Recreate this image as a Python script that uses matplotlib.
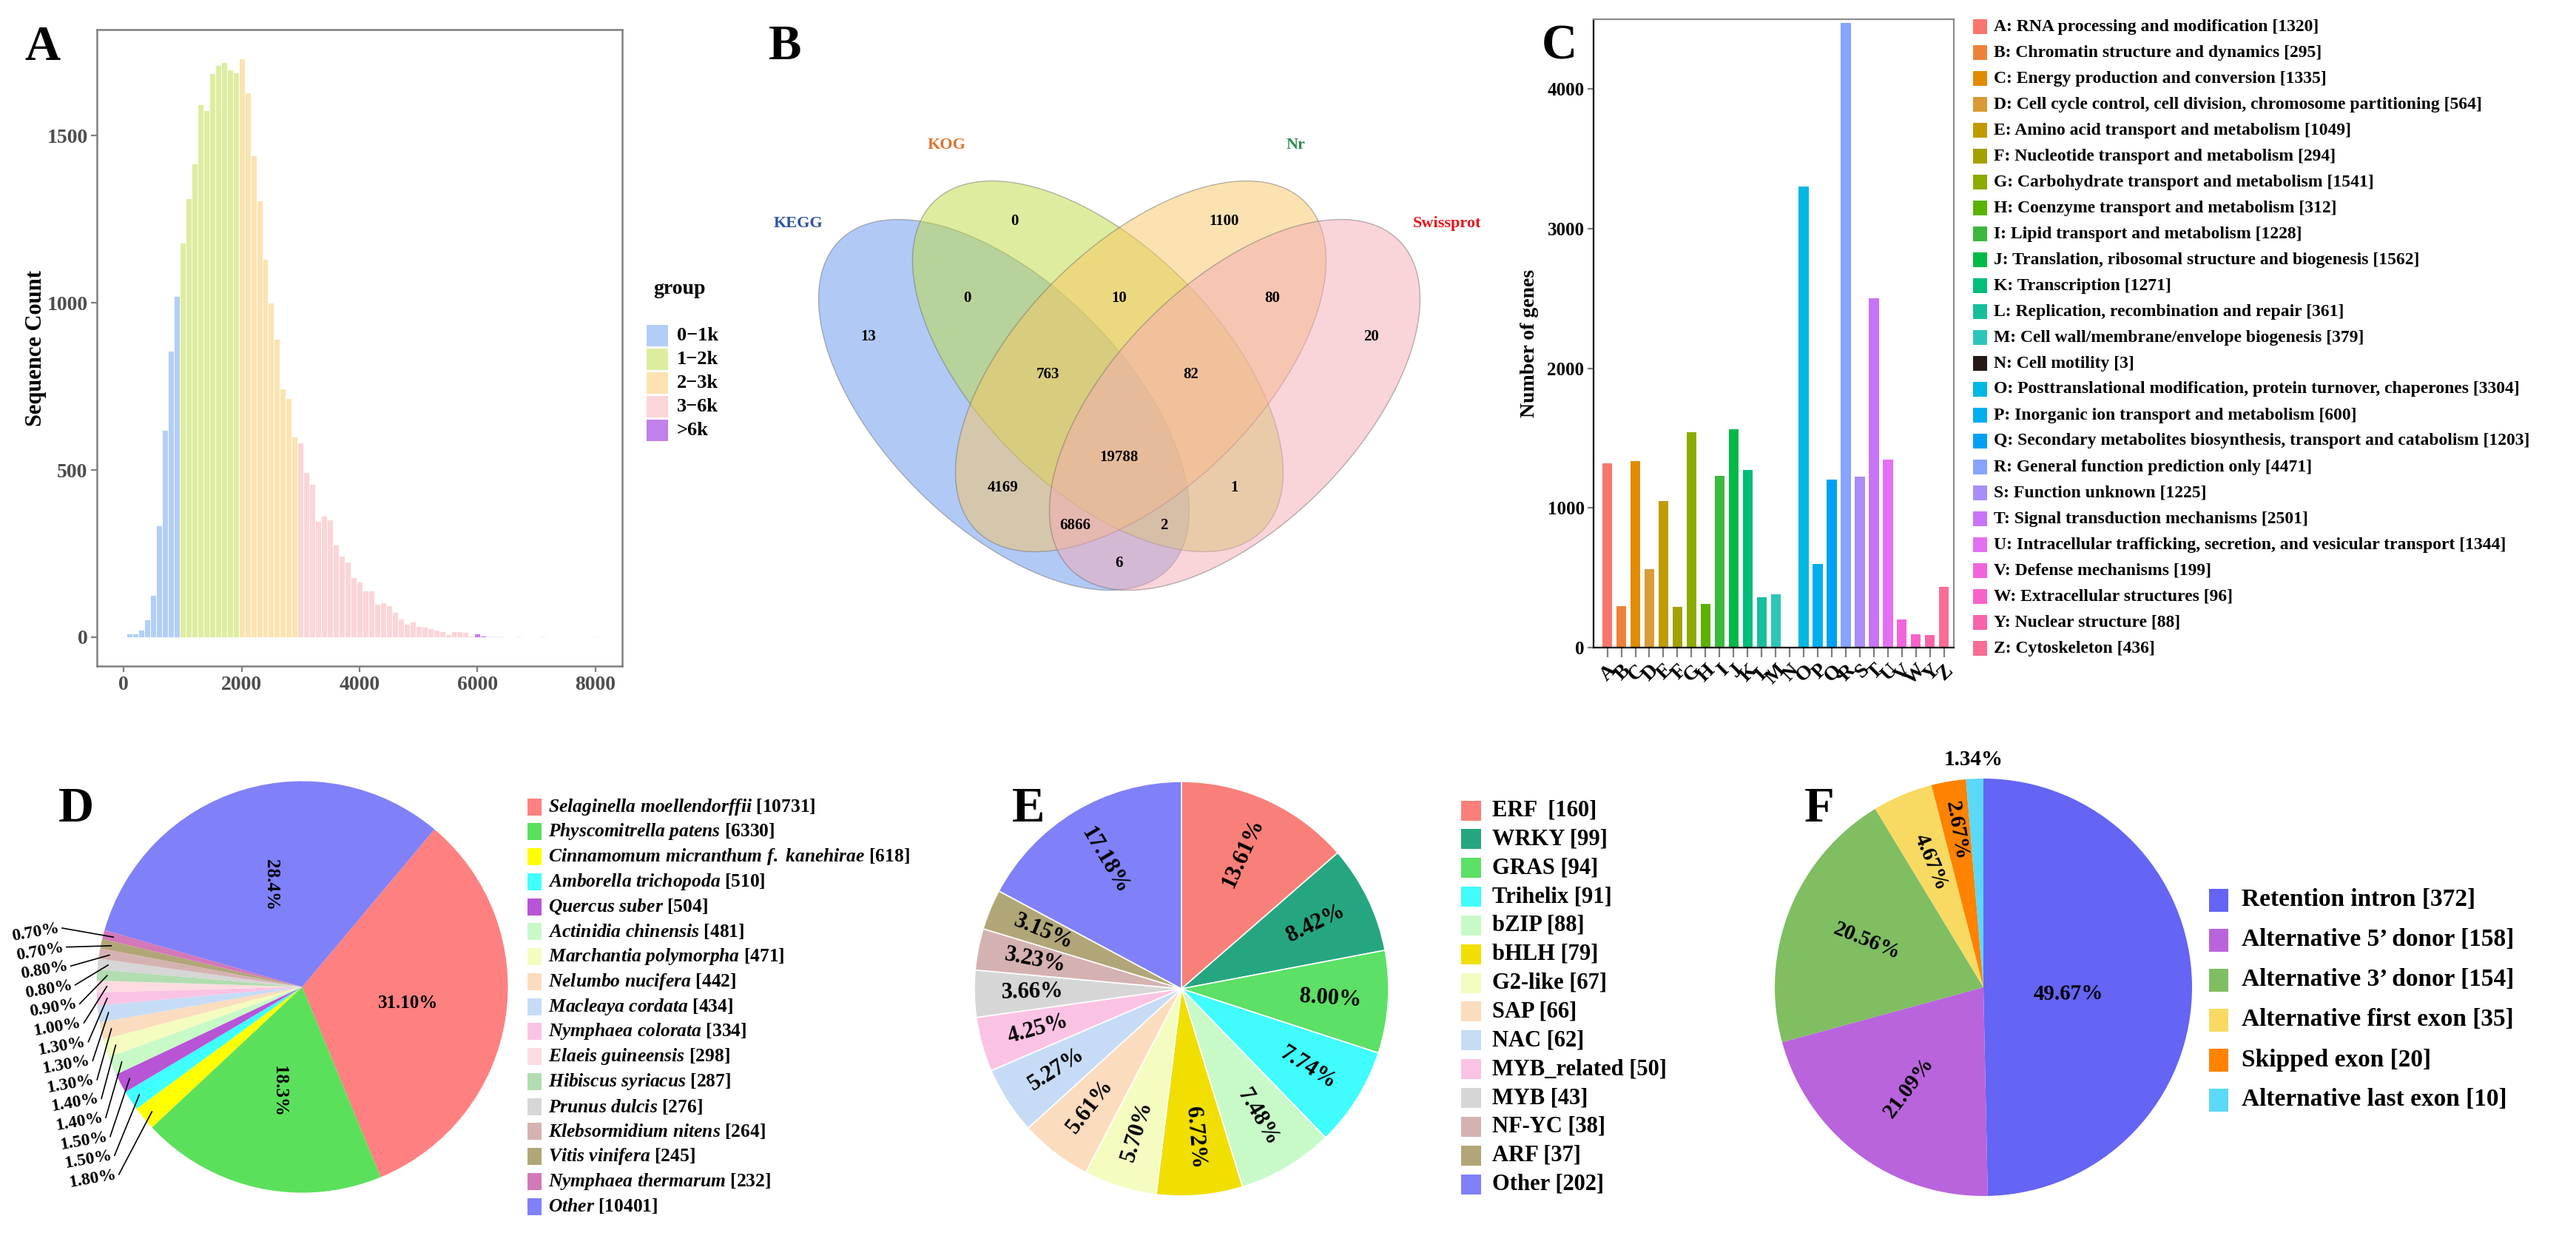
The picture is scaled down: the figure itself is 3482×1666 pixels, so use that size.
import numpy as np
import matplotlib
matplotlib.use('Agg')
import matplotlib.pyplot as plt
from matplotlib.patches import Ellipse, Rectangle

plt.rcParams['font.family'] = ['Liberation Serif', 'DejaVu Serif']
plt.rcParams['font.weight'] = 'bold'
plt.rcParams['mathtext.fontset'] = 'custom'
plt.rcParams['mathtext.it'] = 'Liberation Serif:italic:bold'
plt.rcParams['mathtext.rm'] = 'Liberation Serif:bold'

W, H = 3482, 1666
DPI = 200

# A: transcript length histogram (bin centres, counts per 100 bp bin)
len_bins = np.arange(0, 8100, 100)
len_counts = [3, 10, 10, 23, 53, 127, 335, 620, 857, 1020,
              1179, 1312, 1417, 1594, 1576, 1686, 1712, 1721, 1699, 1688,
              1731, 1630, 1442, 1306, 1132, 1001, 891, 744, 714, 600,
              582, 493, 458, 348, 364, 351, 277, 244, 225, 179,
              166, 140, 140, 99, 104, 95, 75, 56, 40, 47,
              34, 30, 27, 23, 17, 8, 18, 17, 16, 4,
              11, 5, 2, 2, 2, 0, 0, 1, 0, 0,
              0, 1, 0, 0, 0, 0, 0, 0, 0, 0, 1]
len_groups = ['0\u22121k', '1\u22122k', '2\u22123k', '3\u22126k', '>6k']
len_group_edges = [950, 1950, 2950, 5950]
len_colors = ['#B3CEF6', '#DDEDA0', '#FCE3B1', '#FBD5D8', '#C180EB']

# B: Venn diagram of annotation databases
venn_sets = ['KEGG', 'KOG', 'Nr', 'Swissprot']
venn_set_colors = ['#2B52A3', '#E0712E', '#2E8B52', '#E8141C']
venn_fill = ['#6495ED', '#BDDB41', '#F9C763', '#F5ABB5']
venn_regions = ['1000', '0100', '0010', '0001', '1100', '0110', '0011', '1110',
                '0111', '1111', '1010', '0101', '1011', '1101', '1001']
venn_counts = [13, 0, 1100, 20, 0, 10, 80, 763, 82, 19788, 4169, 1, 6866, 2, 6]

# C: KOG classification
cog_letters = list('ABCDEFGHIJKLMNOPQRSTUVWYZ')
cog_counts = [1320, 295, 1335, 564, 1049, 294, 1541, 312, 1228, 1562, 1271, 361, 379,
              3, 3304, 600, 1203, 4471, 1225, 2501, 1344, 199, 96, 88, 436]
cog_names = ['RNA processing and modification',
             'Chromatin structure and dynamics',
             'Energy production and conversion',
             'Cell cycle control, cell division, chromosome partitioning',
             'Amino acid transport and metabolism',
             'Nucleotide transport and metabolism',
             'Carbohydrate transport and metabolism',
             'Coenzyme transport and metabolism',
             'Lipid transport and metabolism',
             'Translation, ribosomal structure and biogenesis',
             'Transcription',
             'Replication, recombination and repair',
             'Cell wall/membrane/envelope biogenesis',
             'Cell motility',
             'Posttranslational modification, protein turnover, chaperones',
             'Inorganic ion transport and metabolism',
             'Secondary metabolites biosynthesis, transport and catabolism',
             'General function prediction only',
             'Function unknown',
             'Signal transduction mechanisms',
             'Intracellular trafficking, secretion, and vesicular transport',
             'Defense mechanisms',
             'Extracellular structures',
             'Nuclear structure',
             'Cytoskeleton']
cog_colors = ['#F8766D', '#EC8239', '#E08B00', '#D89B35', '#C09B00', '#A3A000',
              '#8CAB00', '#5BB300', '#3BB83E', '#00BA48', '#00BD7A', '#17BE9C',
              '#2EC5B9', '#231815', '#00B8E3', '#00AEF0', '#00A0F5', '#85A3FF',
              '#A98DF8', '#C774F7', '#E46FF2', '#F264DC', '#F862C8', '#F963A9',
              '#FB6B93']

# D: Nr species distribution
sp_names = ['Selaginella moellendorffii', 'Physcomitrella patens',
            'Cinnamomum micranthum f. kanehirae', 'Amborella trichopoda',
            'Quercus suber', 'Actinidia chinensis', 'Marchantia polymorpha',
            'Nelumbo nucifera', 'Macleaya cordata', 'Nymphaea colorata',
            'Elaeis guineensis', 'Hibiscus syriacus', 'Prunus dulcis',
            'Klebsormidium nitens', 'Vitis vinifera', 'Nymphaea thermarum', 'Other']
sp_counts = [10731, 6330, 618, 510, 504, 481, 471, 442, 434, 334, 298, 287, 276,
             264, 245, 232, 10401]
sp_pct = ['31.10%', '18.3%', '1.80%', '1.50%', '1.50%', '1.40%', '1.40%', '1.30%',
          '1.30%', '1.30%', '1.00%', '0.90%', '0.80%', '0.80%', '0.70%', '0.70%', '28.4%']
sp_colors = ['#FF8080', '#5BE05B', '#FFFF00', '#40FFFF', '#B854D6', '#C8FAC8',
             '#F4FCC0', '#FCDCBE', '#C6DCF6', '#FBC3E3', '#FCDCE0', '#B2DDB0',
             '#D6D6D6', '#D5B2B2', '#B1A678', '#D378B8', '#8080F8']

# E: transcription factor families
tf_names = ['ERF ', 'WRKY', 'GRAS', 'Trihelix', 'bZIP', 'bHLH', 'G2-like', 'SAP',
            'NAC', 'MYB_related', 'MYB', 'NF-YC', 'ARF', 'Other']
tf_counts = [160, 99, 94, 91, 88, 79, 67, 66, 62, 50, 43, 38, 37, 202]
tf_pct = ['13.61%', '8.42%', '8.00%', '7.74%', '7.48%', '6.72%', '5.70%', '5.61%',
          '5.27%', '4.25%', '3.66%', '3.23%', '3.15%', '17.18%']
tf_colors = ['#F88079', '#26A680', '#5CE065', '#40FCFC', '#C8FAC8', '#F0DF00',
             '#F4FCC0', '#FCDCBE', '#C6DCF6', '#FBC3E3', '#D6D6D6', '#D5B2B2',
             '#B1A678', '#8080F8']

# F: alternative splicing events
as_names = ['Retention intron', 'Alternative 5\u2019 donor', 'Alternative 3\u2019 donor',
            'Alternative first exon', 'Skipped exon', 'Alternative last exon']
as_counts = [372, 158, 154, 35, 20, 10]
as_colors = ['#6464F5', '#B964DC', '#80BE62', '#F8DA62', '#FF8200', '#5CD8F8']


fig = plt.figure(figsize=(W / DPI, H / DPI), dpi=DPI)


def px_axes(left, top, right, bottom, **kw):
    return fig.add_axes([left / W, 1 - bottom / H, (right - left) / W, (bottom - top) / H], **kw)


def pie_axes(cx, cy, r):
    ax = px_axes(cx - r, cy - r, cx + r, cy + r)
    ax.set_facecolor('none')
    return ax


def fold(a):
    a = (a + 180) % 360 - 180
    if a > 90:
        a -= 180
    elif a < -90:
        a += 180
    return a


# ---------------- A
axA = px_axes(131, 40, 841, 900)
bar_cols = [len_colors[np.searchsorted(len_group_edges, c)] for c in len_bins]
axA.bar(len_bins, len_counts, width=100, color=bar_cols, edgecolor='white', linewidth=0.3)
axA.set_xlim(-455, 8455)
axA.set_ylim(-86.5, 1817.5)
axA.set_xticks([0, 2000, 4000, 6000, 8000])
axA.set_yticks([0, 500, 1000, 1500])
axA.tick_params(labelsize=10, labelcolor='#4D4D4D', color='#7F7F7F', length=3, width=0.8, pad=1.5)
for s in axA.spines.values():
    s.set_color('#7F7F7F')
    s.set_linewidth(0.9)
axA.set_ylabel('Sequence Count', fontsize=11, fontweight='bold')
axA.yaxis.set_label_coords(-0.096, 0.5)

# ---------------- C
axC = px_axes(2154, 26, 2641, 875)
xc = np.arange(len(cog_letters))
axC.bar(xc, cog_counts, width=0.7, color=cog_colors)
axC.set_xlim(-0.98, 24.7)
axC.set_ylim(0, 4500)
axC.set_yticks([0, 1000, 2000, 3000, 4000])
axC.set_xticks(xc)
axC.set_xticklabels(cog_letters, rotation=45, ha='right', rotation_mode='anchor')
axC.tick_params(axis='x', labelsize=10, color='#7F7F7F', length=4.5, width=0.8, pad=2)
axC.tick_params(axis='y', labelsize=9, color='#7F7F7F', length=3, width=0.8, pad=1.5)
axC.spines['left'].set_color('black')
axC.spines['bottom'].set_color('black')
axC.spines['top'].set_color('#8C8C8C')
axC.spines['right'].set_color('#8C8C8C')
axC.set_ylabel('Number of genes', fontsize=10, fontweight='bold')
axC.yaxis.set_label_coords(-0.152, 0.484)

# ---------------- D
cxD, cyD, rD = 408.5, 1333.5, 278
axD = pie_axes(cxD, cyD, rD)
wD, _ = axD.pie(sp_counts, colors=sp_colors, startangle=50, counterclock=False,
                wedgeprops=dict(linewidth=0))
axD.set_xlim(-1, 1)
axD.set_ylim(-1, 1)
axD.axis('off')
for i, rot in [(0, 0), (1, -90), (16, -90)]:
    mid = np.radians((wD[i].theta1 + wD[i].theta2) / 2)
    axD.text(0.52 * np.cos(mid), 0.52 * np.sin(mid), sp_pct[i], rotation=rot,
             ha='center', va='center', fontsize=9, fontweight='bold')
small = list(range(15, 1, -1))
for j, i in enumerate(small):
    lx = (48 + 5.9 * j - cxD) / rD
    ly = (cyD - (1260 + 25.6 * j)) / rD
    axD.text(lx, ly, sp_pct[i], rotation=10, ha='center', va='center',
             fontsize=8.5, fontweight='bold', clip_on=False)
    mid = np.radians((wD[i].theta1 + wD[i].theta2) / 2)
    axD.plot([lx + 36 / rD, 0.95 * np.cos(mid)], [ly + 6 / rD, 0.95 * np.sin(mid)],
             color='black', lw=0.6, clip_on=False)

# ---------------- E
cxE, cyE, rE = 1597, 1336, 280
axE = pie_axes(cxE, cyE, rE)
wE, _ = axE.pie(tf_counts, colors=tf_colors, startangle=90, counterclock=False,
                wedgeprops=dict(edgecolor='white', linewidth=0.6))
axE.set_xlim(-1, 1)
axE.set_ylim(-1, 1)
axE.axis('off')
for w, p in zip(wE, tf_pct):
    m = (w.theta1 + w.theta2) / 2
    axE.text(0.72 * np.cos(np.radians(m)), 0.72 * np.sin(np.radians(m)), p,
             rotation=fold(m), ha='center', va='center', fontsize=11, fontweight='bold')

# ---------------- F
cxF, cyF, rF = 2681, 1334, 282
axF = pie_axes(cxF, cyF, rF)
wF, _ = axF.pie(as_counts, colors=as_colors, startangle=90, counterclock=False,
                wedgeprops=dict(linewidth=0))
axF.set_xlim(-1, 1)
axF.set_ylim(-1, 1)
axF.axis('off')
as_total = sum(as_counts)
f_dist = [0.41, 0.6, 0.6, 0.65, 0.76, 1.09]
f_ang_shift = [-5, 0, 0, 0, 0, 0]
for k, (w, c) in enumerate(zip(wF, as_counts)):
    m = (w.theta1 + w.theta2) / 2
    rot = 0 if k == len(as_counts) - 1 else fold(m)
    a = np.radians(m + f_ang_shift[k])
    axF.text(f_dist[k] * np.cos(a), f_dist[k] * np.sin(a),
             '%.2f%%' % (100 * c / as_total), rotation=rot, ha='center', va='center',
             fontsize=10.5, fontweight='bold', clip_on=False)

# ---------------- overlay: Venn, legends, panel letters (pixel coordinates)
ov = fig.add_axes([0, 0, 1, 1], zorder=5)
ov.set_xlim(0, W)
ov.set_ylim(H, 0)
ov.axis('off')

venn_geom = [(1357, 547, 45), (1484, 495, 45), (1542, 495, -45), (1669, 547, -45)]
for (ex, ey, ang), fc in zip(venn_geom, venn_fill):
    ov.add_patch(Ellipse((ex, ey), 628, 328, angle=ang, facecolor=fc, alpha=0.5,
                         edgecolor='#6E6E6E', linewidth=0.5))
venn_label_pos = [(1079, 302), (1280, 196), (1752, 196), (1956, 302)]
for name, col, (x, y) in zip(venn_sets, venn_set_colors, venn_label_pos):
    ov.text(x, y, name, color=col, fontsize=8, fontweight='bold', ha='center', va='center')
region_pos = {'1000': (1174, 455), '0100': (1371, 299), '0010': (1655, 299),
              '0001': (1853, 455), '1100': (1307, 403), '0110': (1513, 403),
              '0011': (1720, 403), '1110': (1417, 506), '0111': (1610, 506),
              '1111': (1513, 618), '1010': (1356, 659), '0101': (1669, 659),
              '1011': (1453, 710), '1101': (1573, 710), '1001': (1513, 761)}
for reg, n in zip(venn_regions, venn_counts):
    x, y = region_pos[reg]
    ov.text(x, y, str(n), fontsize=7.5, fontweight='bold', ha='center', va='center')

# legend A
ov.text(919, 390, 'group', fontsize=10, fontweight='bold', ha='center', va='center')
for i, (g, c) in enumerate(zip(len_groups, len_colors)):
    y = 453 + 32 * i
    ov.add_patch(Rectangle((874, y - 14.5), 29, 29, facecolor=c, edgecolor='none'))
    ov.text(915, y, g, fontsize=9.5, fontweight='bold', va='center')

# legend C
for i, (l, n, c, col) in enumerate(zip(cog_letters, cog_names, cog_counts, cog_colors)):
    y = 36 + 35 * i
    ov.add_patch(Rectangle((2667, y - 10), 19, 20, facecolor=col, edgecolor='none'))
    ov.text(2695, y, '%s: %s [%d]' % (l, n, c), fontsize=8.5, fontweight='bold', va='center')

# legend D
for i, (n, c, col) in enumerate(zip(sp_names, sp_counts, sp_colors)):
    y = 1090 + 33.75 * i
    ov.add_patch(Rectangle((713, y - 11.5), 19, 23, facecolor=col, edgecolor='none'))
    lab = r'$\it{%s}$ [%d]' % (n.replace(' ', r'\ '), c)
    ov.text(741, y, lab, fontsize=9.2, fontweight='bold', va='center')

# legend E
for i, (n, c, col) in enumerate(zip(tf_names, tf_counts, tf_colors)):
    y = 1095 + 38.85 * i
    ov.add_patch(Rectangle((1975, y - 13.5), 27, 27, facecolor=col, edgecolor='none'))
    ov.text(2017, y, '%s [%d]' % (n, c), fontsize=11, fontweight='bold', va='center')

# legend F
for i, (n, c, col) in enumerate(zip(as_names, as_counts, as_colors)):
    y = 1216 + 54 * i
    ov.add_patch(Rectangle((2986, y - 15.5), 26, 31, facecolor=col, edgecolor='none'))
    ov.text(3030, y, '%s [%d]' % (n, c), fontsize=12, fontweight='bold', va='center')

for letter, (x, y) in zip('ABCDEF', [(57, 64), (1061, 63), (2108, 63),
                                     (103, 1094), (1390, 1094), (2459, 1094)]):
    ov.text(x, y, letter, fontsize=24, fontweight='bold', ha='center', va='center')

fig.savefig('out.png', dpi=DPI)
